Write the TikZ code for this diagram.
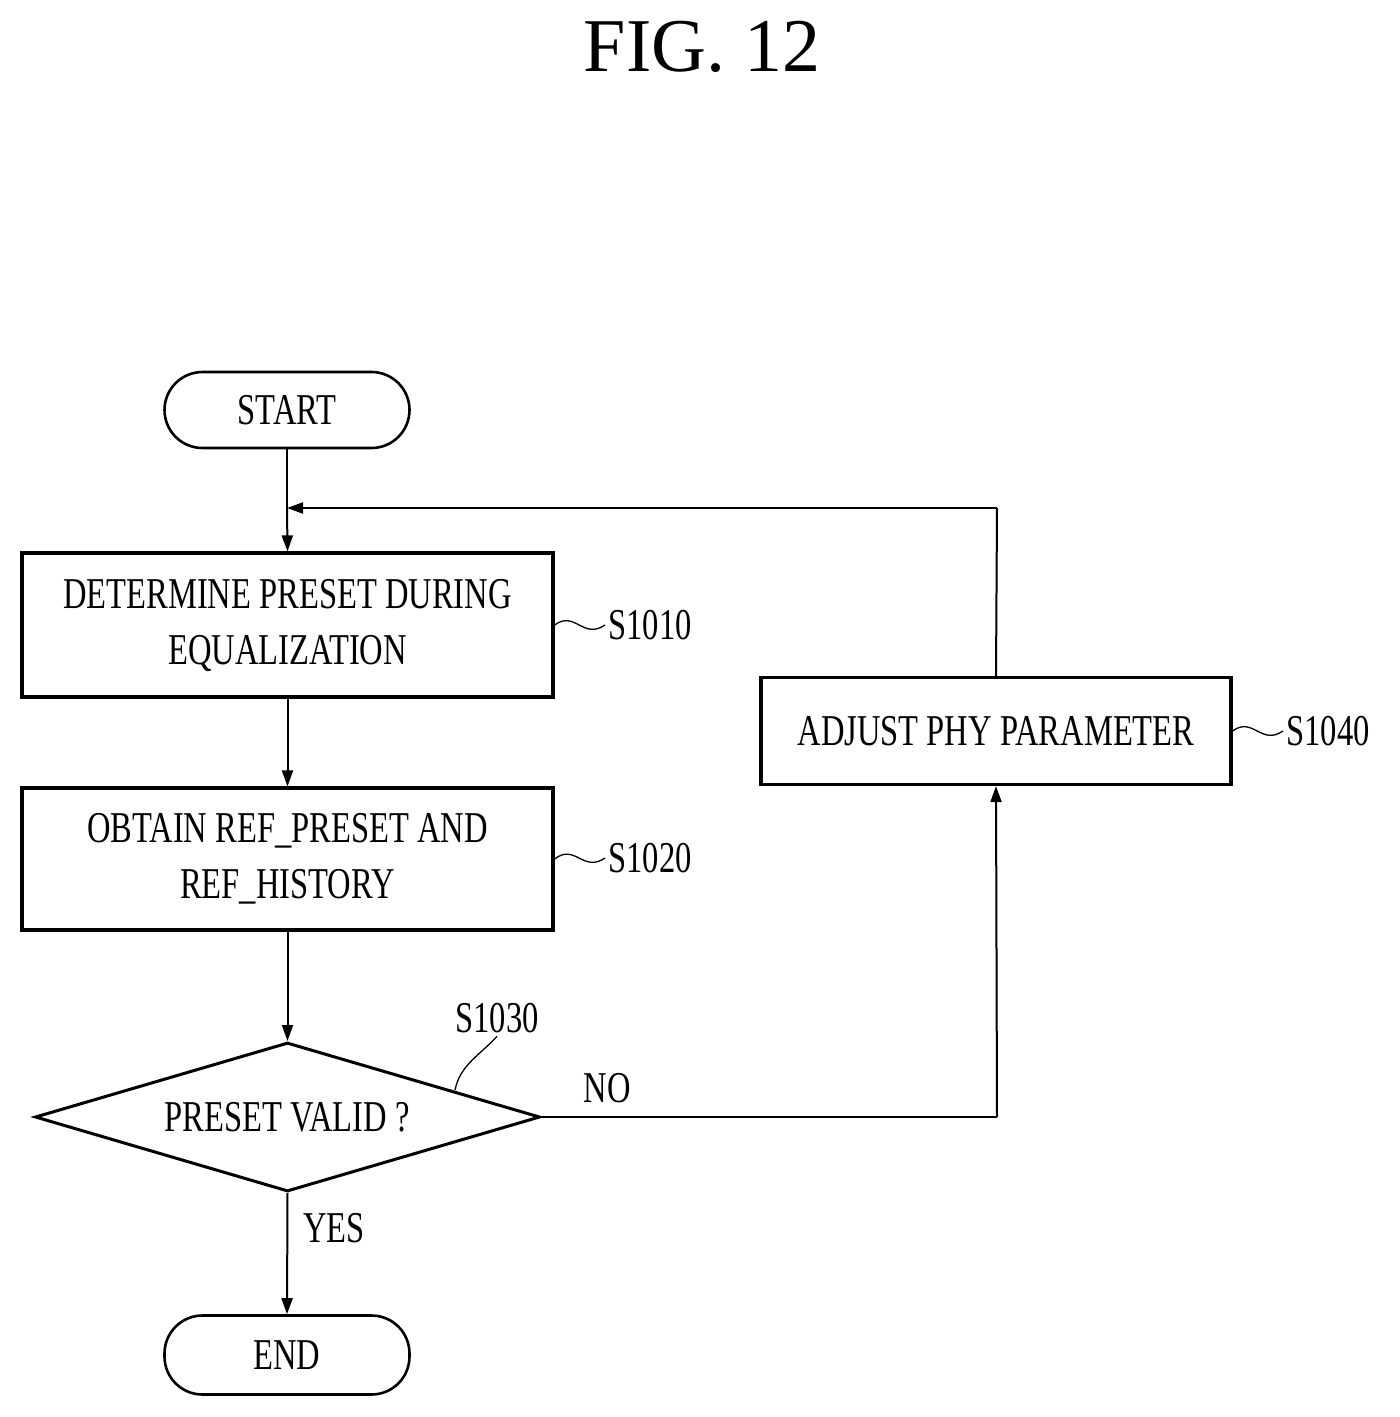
\documentclass[tikz,border=0pt]{standalone}
\usepackage{fontspec}
\setmainfont{Liberation Serif}[FakeStretch=0.74]
\newfontfamily\titlefont{Liberation Serif}
\usetikzlibrary{shapes.geometric,arrows.meta}
\begin{document}
\begin{tikzpicture}[x=1pt,y=-1pt,
  txt/.style={font=\fontsize{44}{56}\selectfont,align=center},
  box/.style={draw,line width=3.2pt,txt},
  term/.style={draw,line width=2.6pt,rounded corners=38pt,txt},
  conn/.style={line width=2pt},
  arr/.style={conn,-{Triangle[length=16pt,width=11pt]}},
  lbl/.style={txt,anchor=west},
  sq/.style={line width=1.3pt}]
\useasboundingbox (0,0) rectangle (1400,1417);
\node[font=\titlefont\fontsize{76}{80}\selectfont] (title) at (702,47) {FIG. 12};
\node[term,minimum width=245pt,minimum height=76pt] (start) at (287,410) {START};
\node[box,minimum width=531pt,minimum height=144pt] (b1) at (287.5,625) {DETERMINE PRESET DURING\\EQUALIZATION};
\node[box,minimum width=531pt,minimum height=142pt] (b2) at (287.5,859) {OBTAIN REF\_PRESET AND\\REF\_HISTORY};
\node[draw,line width=3pt,diamond,aspect=3.4,minimum width=505pt,minimum height=149pt,inner sep=0pt] (d) at (287.5,1117) {};
\node[txt] (dt) at (287,1117) {PRESET VALID ?};
\node[box,minimum width=470pt,minimum height=107pt] (b4) at (996,731) {ADJUST PHY PARAMETER};
\node[term,minimum width=245pt,minimum height=79pt] (end) at (287,1355) {END};
\coordinate (j) at (287,508);
\coordinate (tr) at (997,508);
\coordinate (br) at (997,1117);
\draw[conn] (start.south) -- (j);
\draw[arr] (j) -- (b1.north);
\draw[arr] (b1.south) -- (b2.north);
\draw[arr] (b2.south) -- (d.north);
\draw[arr] (d.south) -- (end.north);
\draw[conn] (d.east) -- (br);
\draw[arr] (br) -- (b4.south);
\draw[conn] (b4.north) -- (tr);
\draw[arr] (tr) -- (j);
\node[lbl] (l1) at (605,625) {S1010};
\node[lbl] (l2) at (605,858) {S1020};
\node[lbl] (l4) at (1283,731) {S1040};
\node[txt] (l3) at (497,1018) {S1030};
\node[txt] (no) at (607,1088) {NO};
\node[txt] (yes) at (334,1228) {YES};
\draw[sq] (b1.east) .. controls (575,610) and (583,640) .. (l1.west);
\draw[sq] (b2.east) .. controls (575,843) and (583,873) .. (l2.west);
\draw[sq] (b4.east) .. controls (1253,716) and (1261,746) .. (l4.west);
\draw[sq] (455,1090) .. controls (460,1065) and (480,1055) .. (l3.south);
\end{tikzpicture}
\end{document}
